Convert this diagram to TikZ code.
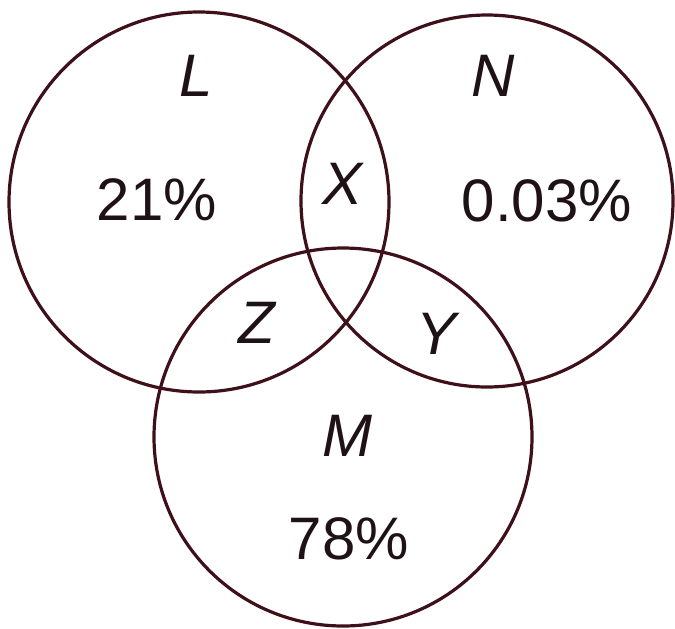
\documentclass[tikz,border=0pt]{standalone}
\usepackage{fontspec}
\setmainfont{Liberation Sans}
\begin{document}
\begin{tikzpicture}[x=0.5pt,y=-0.5pt,
  setcircle/.style={circle, draw=linecol, line width=1.6pt, inner sep=0pt, minimum size=#1},
  setlabel/.style={text=textcol, font=\fontsize{30}{36}\selectfont\itshape, inner sep=0pt},
  pctlabel/.style={text=textcol, font=\fontsize{30}{36}\selectfont, inner sep=0pt}]
\definecolor{linecol}{RGB}{62,16,26}
\definecolor{textcol}{RGB}{30,18,22}
\useasboundingbox (0,0) rectangle (675,628);
\fill[white] (0,0) rectangle (675,628);
% circles
\node[setcircle=190pt] (L) at (199,202) {};
\node[setcircle=186pt] (N) at (487,201) {};
\node[setcircle=189pt] (M) at (343,437) {};
% set names
\node[setlabel] (lL) at (196,76) {L};
\node[setlabel] (lN) at (493,76) {N};
\node[setlabel] (lM) at (347,436) {M};
% region labels
\node[setlabel] (lX) at (343,184) {X};
\node[setlabel] (lZ) at (257,323) {Z};
\node[setlabel] (lY) at (437,334) {Y};
% percentages
\node[pctlabel] (pL) at (157,200) {21\%};
\node[pctlabel] (pN) at (547,201) {0.03\%};
\node[pctlabel] (pM) at (349,539) {78\%};
\end{tikzpicture}
\end{document}
